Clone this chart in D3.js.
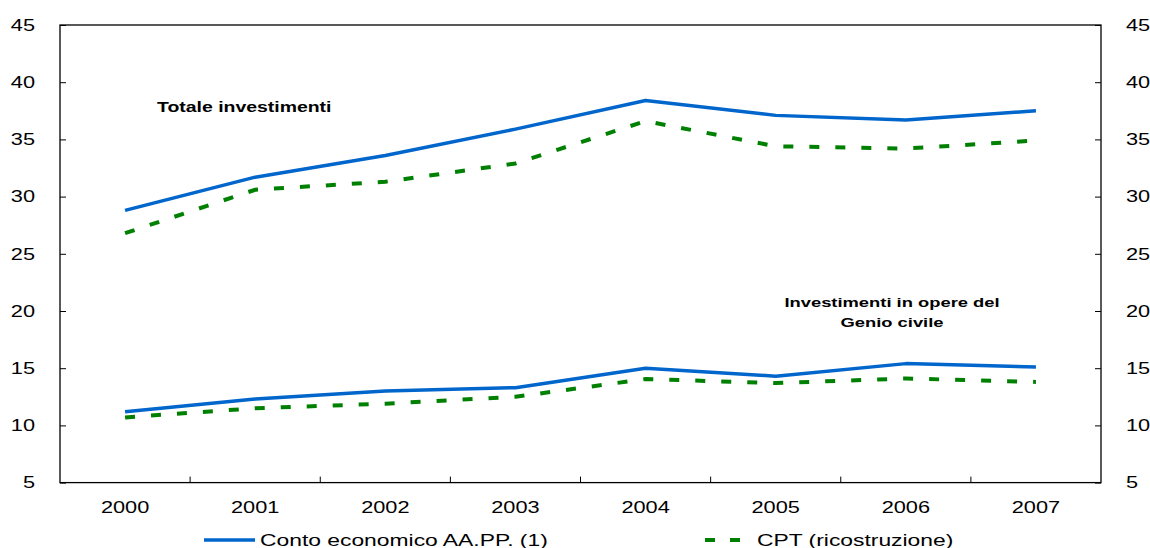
<!DOCTYPE html>
<html>
<head>
<meta charset="utf-8">
<script src="https://cdn.jsdelivr.net/npm/d3@7"></script>
<style>
  body { margin: 0; background: #fff; }
  svg { display: block; font-family: "Liberation Sans", Arial, sans-serif; }
</style>
</head>
<body>
<svg id="chart" width="1150" height="548"></svg>
<script>
// Years on the category axis
const years = ["2000", "2001", "2002", "2003", "2004", "2005", "2006", "2007"];
// Total investment: national accounts vs CPT reconstruction
const totaleConto = [28.8, 31.7, 33.6, 35.9, 38.4, 37.1, 36.7, 37.5];
const totaleCPT   = [26.8, 30.6, 31.3, 32.9, 36.6, 34.4, 34.2, 34.9];
// Civil engineering works investment
const genioConto  = [11.2, 12.3, 13.0, 13.3, 15.0, 14.3, 15.4, 15.1];
const genioCPT    = [10.7, 11.5, 11.9, 12.5, 14.05, 13.7, 14.1, 13.8];
// Value axis ticks
const yTicks = [5, 10, 15, 20, 25, 30, 35, 40, 45];

const seriesNames = ["Conto economico AA.PP. (1)", "CPT (ricostruzione)"];

const svg = d3.select("#chart");
const m = { left: 60, right: 1101, top: 25, bottom: 482.6 };

const x = d3.scaleBand().domain(years).range([m.left, m.right]).padding(0);
const y = d3.scaleLinear().domain([5, 45]).range([m.bottom, m.top]);

const blue = "#0066cc", green = "#008000";
const SX = 1.36; // horizontal stretch of the lettering

// Text helper: wide lettering drawn at (px, py)
function label(parent, px, py, str, size, anchor, bold) {
  return parent.append("text")
    .attr("transform", `translate(${px},${py}) scale(${SX},1)`)
    .attr("text-anchor", anchor || "start")
    .attr("font-size", size)
    .attr("font-weight", bold ? "bold" : "normal")
    .attr("fill", "#000")
    .text(str);
}

// Frame of the plot area
svg.append("rect")
  .attr("x", m.left).attr("y", m.top)
  .attr("width", m.right - m.left).attr("height", m.bottom - m.top)
  .attr("fill", "none").attr("stroke", "#000").attr("stroke-width", 1.3);

// Left and right axes: inward ticks
const left = svg.append("g").attr("transform", `translate(${m.left},0)`)
  .call(d3.axisLeft(y).tickValues(yTicks).tickSize(-6).tickFormat(""));
const right = svg.append("g").attr("transform", `translate(${m.right},0)`)
  .call(d3.axisRight(y).tickValues(yTicks).tickSize(-6).tickFormat(""));
[left, right].forEach(g => {
  g.select(".domain").remove();
  g.selectAll("line").attr("stroke", "#000");
});
const yLabels = svg.append("g");
yTicks.forEach(t => {
  label(yLabels, 35, y(t) + 5.8, String(t), 16, "end");
  label(yLabels, 1126, y(t) + 5.8, String(t), 16, "start");
});

// Bottom axis: ticks between categories pointing up
svg.append("g").selectAll("line")
  .data(years.slice(1))
  .join("line")
  .attr("x1", d => x(d)).attr("x2", d => x(d))
  .attr("y1", m.bottom).attr("y2", m.bottom - 6)
  .attr("stroke", "#000");
const xLabels = svg.append("g");
years.forEach(yr => {
  label(xLabels, x(yr) + x.bandwidth() / 2, 512.5, yr, 16, "middle");
});

const line = d3.line()
  .x((d, i) => x(years[i]) + x.bandwidth() / 2)
  .y(d => y(d));

const solid = [totaleConto, genioConto];
const dashed = [totaleCPT, genioCPT];

svg.append("g").selectAll("path")
  .data(dashed).join("path")
  .attr("d", line)
  .attr("fill", "none").attr("stroke", green)
  .attr("stroke-width", 4).attr("stroke-dasharray", "10,16");

svg.append("g").selectAll("path")
  .data(solid).join("path")
  .attr("d", line)
  .attr("fill", "none").attr("stroke", blue)
  .attr("stroke-width", 3.5).attr("stroke-linejoin", "round");

// Panel annotations
const notes = svg.append("g");
label(notes, 157, 111.5, "Totale investimenti", 14.3, "start", true);
label(notes, 892, 307, "Investimenti in opere del", 13.5, "middle", true);
label(notes, 892, 327, "Genio civile", 13.5, "middle", true);

// Legend
const legend = svg.append("g");
const lg = [
  { name: seriesNames[0], x1: 204, x2: 255, tx: 260, color: blue, dash: null, w: 3.5 },
  { name: seriesNames[1], x1: 705, x2: 742, tx: 757, color: green, dash: "10,15", w: 4 }
];
lg.forEach(d => {
  legend.append("line")
    .attr("x1", d.x1).attr("x2", d.x2)
    .attr("y1", 540).attr("y2", 540)
    .attr("stroke", d.color).attr("stroke-width", d.w)
    .attr("stroke-dasharray", d.dash);
  label(legend, d.tx, 545.5, d.name, 16.8, "start");
});
</script>
</body>
</html>
